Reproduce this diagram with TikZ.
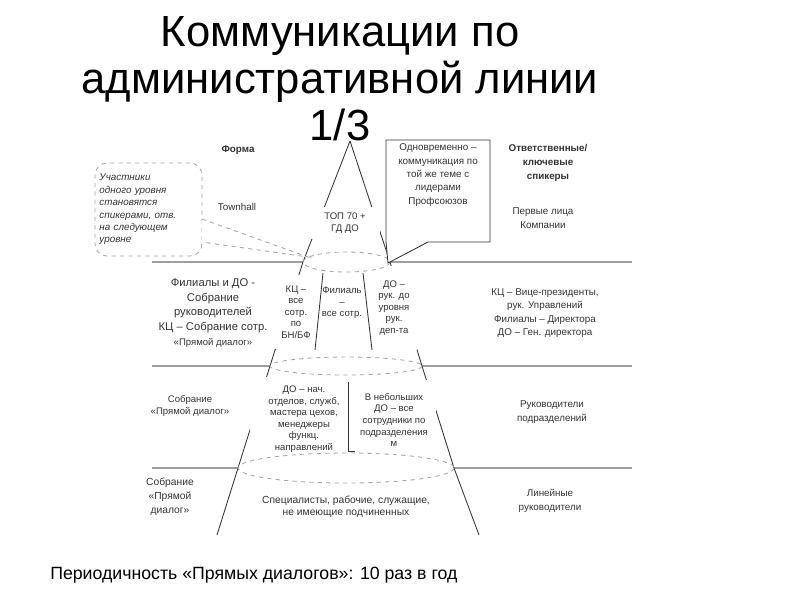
\documentclass[tikz,border=0pt]{standalone}
\usepackage{fontspec}
\setmainfont{Liberation Sans}
\usetikzlibrary{positioning}

\begin{document}
\begin{tikzpicture}[
    x=0.025cm, y=-0.025cm,
    txt/.style={align=center, text=black!80, font=\fontsize{7}{9.5}\selectfont, inner sep=1pt},
    lvl/.style={align=center, text=black!80, font=\fontsize{6.8}{8.2}\selectfont, inner sep=1pt},
    mask/.style={lvl, fill=white},
    head/.style={txt, font=\fontsize{7}{10.2}\selectfont\bfseries},
    tier/.style={draw=gray!75, line width=1.1pt},
    edge/.style={draw=black!80, line width=0.6pt},
    rim/.style={draw=gray!70, dashed, line width=0.6pt},
    note/.style={draw=gray!70, dashed, line width=0.6pt, rounded corners=0.3cm, minimum width=2.675cm, minimum height=2.325cm, text width=2.45cm, align=left, inner sep=2pt, text=black!80, font=\fontsize{7}{8.8}\selectfont\itshape}
]
\useasboundingbox (0,0) rectangle (800,600);

% Title
\node[align=center, font=\fontsize{31}{33.4}\selectfont] (title) at (340,79) {Коммуникации по\\административной линии\\1/3};

% Cone outline
\coordinate (apex) at (350,141);
\coordinate (r1l) at (303,262);
\coordinate (r1r) at (390,262);
\coordinate (r2l) at (270,366);
\coordinate (r2r) at (422,366);
\coordinate (r3l) at (238,468);
\coordinate (r3r) at (454,468);
\coordinate (footl) at (217,535);
\coordinate (footr) at (479,535);

% Levels
\draw[tier] (152,262) -- (r1l);
\draw[tier] (r1r) -- (632,262);
\draw[tier] (152,366) -- (r2l);
\draw[tier] (r2r) -- (632,366);
\draw[tier] (152,468) -- (r3l);
\draw[tier] (r3r) -- (632,468);

\draw[edge] (apex) -- (r1l) -- (r2l) -- (r3l) -- (footl);
\draw[edge] (apex) -- (r1r) -- (r2r) -- (r3r) -- (footr);

% Texts inside the cone
\node[mask, minimum width=1.75cm, minimum height=0.8cm] (top) at (345,223) {ТОП 70 +\\ГД ДО};
\node[mask, minimum width=1.1cm, minimum height=1.85cm] (kcall) at (296,312) {КЦ –\\все\\сотр.\\по\\БН/БФ};
\node[lvl] (filall) at (342,303) {Филиаль\\–\\все сотр.};
\node[mask, minimum width=1.15cm, minimum height=2.1cm] (dohead) at (394,308) {ДО –\\рук. до\\уровня\\рук.\\деп-та};
\node[mask, minimum width=2.7cm, minimum height=2.1cm] (dochief) at (304,419) {ДО – нач.\\отделов, служб,\\мастера цехов,\\менеджеры\\функц.\\направлений};
\node[mask, minimum width=2.1cm, minimum height=2cm] (smalldo) at (394,420) {В небольших\\ДО – все\\сотрудники по\\подразделения\\м};
\node[lvl, font=\fontsize{7.3}{8.2}\selectfont] (staff) at (346,507) {Специалисты, рабочие, служащие,\\не имеющие подчиненных};

% Dividers
\draw[edge] (323,273) -- (315,350);
\draw[edge] (363,273) -- (372,350);
\draw[edge] (348,382) -- (348,451) -- (355,451);

% Rims
\draw[rim] (346.5,262) ellipse [x radius=43.5, y radius=10];
\draw[rim] (346,366) ellipse [x radius=76, y radius=9];
\draw[rim] (346,468) ellipse [x radius=108, y radius=15];

% Callouts
\node[note] (peers) at (148.5,209.5) {Участники\\одного уровня\\становятся\\спикерами, отв.\\на следующем\\уровне};
\coordinate (pa) at (202,219);
\coordinate (pb) at (202,242);
\coordinate (peertip) at (308,257);
\fill[white] (pa) -- (peertip) -- (pb) -- cycle;
\draw[rim] (pa) -- (peertip) -- (pb);

\coordinate (tipdo) at (388,263);
\draw[edge, fill=white] (386,140) -- (490,140) -- (490,242) -- (428,242) -- (tipdo) -- (386,242) -- cycle;
\node[txt] (together) at (438,175) {Одновременно –\\коммуникация по\\той же теме с\\лидерами\\Профсоюзов};

% Left column
\node[head] (form) at (238,150) {Форма};
\node[txt] (townhall) at (237,207) {Townhall};
\node[txt, font=\fontsize{8}{10.6}\selectfont] (meet1) at (213,313) {Филиалы и ДО -\\Собрание\\руководителей\\КЦ – Собрание сотр.\\{\fontsize{6.8}{10.6}\selectfont«Прямой диалог»}};
\node[txt, font=\fontsize{6.8}{8.6}\selectfont] (meet2) at (190,406) {Собрание\\«Прямой диалог»};
\node[txt, font=\fontsize{7.3}{10}\selectfont] (meet3) at (170,497) {Собрание\\«Прямой\\диалог»};

% Right column
\node[head] (speak) at (548,163) {Ответственные/\\ключевые\\спикеры};
\node[txt] (first) at (543,218) {Первые лица\\Компании};
\node[txt] (vp) at (545,313) {КЦ – Вице-президенты,\\рук. Управлений\\Филиалы – Директора\\ДО – Ген. директора};
\node[txt] (unit) at (552,412) {Руководители\\подразделений};
\node[txt] (line) at (550,501) {Линейные\\руководители};

% Footer
\node[anchor=west, inner sep=0pt, font=\fontsize{12.6}{14}\selectfont] (freq) at (50,575) {Периодичность «Прямых диалогов»: 10 раз в год};

\end{tikzpicture}
\end{document}
